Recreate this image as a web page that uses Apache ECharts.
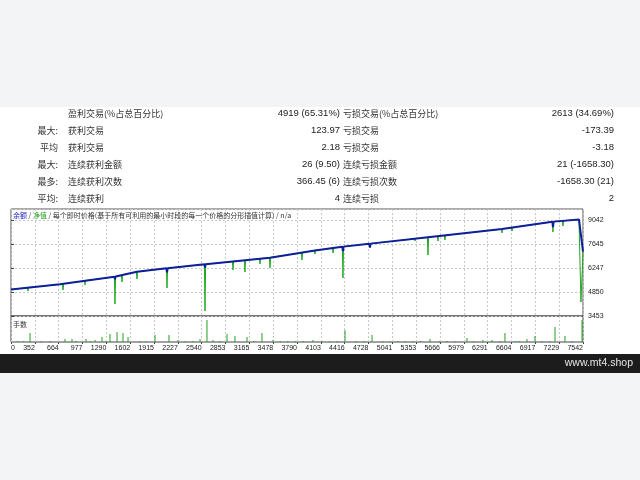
<!DOCTYPE html>
<html><head><meta charset="utf-8">
<script src="https://cdn.jsdelivr.net/npm/echarts@6/dist/echarts.min.js"></script>
<style>html,body{margin:0;padding:0;background:#fff}#c{width:640px;height:480px}</style>
</head><body><div id="c"></div>
<script>
// ---- tick labels ----
const xTickLabels = ["0","352","664","977","1290","1602","1915","2227","2540","2853","3165","3478","3790","4103","4416","4728","5041","5353","5666","5979","6291","6604","6917","7229","7542"];
const yTickLabels = ["3453","4850","6247","7645","9042"];

// ---- balance (blue) [trade #, value] ----
const balance = [
  [0,5000],[646,5299],
  [1362,5735],[1371,5600],[1380,5750],
  [1661,6032],
  [2049,6226],[2057,5990],[2066,6234],
  [2550,6459],[2558,6280],[2566,6466],
  [3415,6847],[4008,7266],
  [4368,7484],[4377,7230],[4386,7492],
  [4725,7658],[4733,7450],[4742,7666],
  [5498,8035],[6474,8518],
  [7138,8939],[7146,8620],[7155,8947],
  [7489,9071],[7542,7200]
];

// ---- equity (green) [trade #, value] ----
const equity = [
  [0,5000],
  [216,5093],[224,4909],[232,5116],
  [506,5231],[514,5141],[522,5245],
  [678,5307],[686,4967],[694,5338],
  [968,5491],[976,5258],[984,5515],
  [1363,5728],[1371,4152],[1379,5760],
  [1456,5810],[1464,5432],[1472,5860],
  [1653,6011],[1661,5607],[1669,6041],
  [2049,6219],[2057,5083],[2065,6241],
  [2550,6452],[2558,3744],[2566,6473],
  [2919,6618],[2927,6131],[2935,6638],
  [3077,6690],[3085,6015],[3093,6708],
  [3275,6780],[3283,6480],[3291,6795],
  [3407,6838],[3415,6248],[3423,6861],
  [3829,7129],[3837,6713],[3845,7161],
  [4000,7253],[4008,7063],[4016,7279],
  [4238,7396],[4246,7121],[4254,7420],
  [4369,7475],[4377,5665],[4385,7499],
  [4725,7653],[4733,7412],[4741,7670],
  [5319,7941],[5327,7820],[5335,7960],
  [5490,8026],[5498,7004],[5506,8046],
  [5622,8090],[5630,7820],[5638,8110],
  [5714,8137],[5722,7878],[5730,8155],
  [5873,8214],[5881,8111],[5889,8234],
  [6466,8509],[6474,8285],[6482,8531],
  [6598,8588],[6606,8402],[6614,8613],
  [7138,8930],[7146,8343],[7154,8950],
  [7270,8985],[7278,8693],[7286,9000],
  [7489,9071],[7515,4268],[7542,7200]
];

// ---- lots (手数) [trade #, lots] ----
const lots = [
  [90,0.05],[160,0.05],[251,0.45],[400,0.05],[520,0.05],[712,0.15],[804,0.15],[860,0.05],
  [989,0.15],[1050,0.05],[1108,0.1],[1200,0.25],[1250,0.05],[1305,0.4],[1398,0.5],[1477,0.45],
  [1543,0.25],[1700,0.05],[1780,0.05],[1899,0.35],[2083,0.35],[2202,0.1],[2300,0.05],[2400,0.05],
  [2492,0.15],[2584,1.1],[2663,0.1],[2750,0.05],[2848,0.4],[2953,0.3],[3112,0.25],[3200,0.05],
  [3309,0.45],[3454,0.1],[3550,0.05],[3650,0.05],[3750,0.05],[3850,0.05],[3982,0.1],[4100,0.05],
  [4200,0.05],[4300,0.05],[4404,0.6],[4550,0.05],[4650,0.05],[4760,0.35],[4900,0.05],[5000,0.05],
  [5100,0.05],[5200,0.05],[5300,0.05],[5400,0.05],[5525,0.15],[5650,0.05],[5750,0.05],[5850,0.05],
  [6012,0.2],[6100,0.05],[6223,0.1],[6342,0.1],[6450,0.05],[6513,0.45],[6650,0.05],[6700,0.05],
  [6803,0.15],[6909,0.3],[7000,0.05],[7100,0.05],[7173,0.75],[7304,0.3],[7400,0.05],[7529,1.1]
];

// ---- statistics table ----
const statPrefix  = ["", "最大:", "平均", "最大:", "最多:", "平均:"];
const statNamesL  = ["盈利交易(%占总百分比)", "获利交易", "获利交易", "连续获利金额", "连续获利次数", "连续获利"];
const statValuesL = ["4919 (65.31%)", "123.97", "2.18", "26 (9.50)", "366.45 (6)", "4"];
const statNamesR  = ["亏损交易(%占总百分比)", "亏损交易", "亏损交易", "连续亏损金额", "连续亏损次数", "连续亏损"];
const statValuesR = ["2613 (34.69%)", "-173.39", "-3.18", "21 (-1658.30)", "-1658.30 (21)", "2"];

const legendParts = ["余额", "净值", "每个即时价格(基于所有可利用的最小时段的每一个价格的分形插值计算)", "n/a"];
const subTitle = "手数";
const siteText = "www.mt4.shop";

// ---- layout/style ----
const X_MAX = 7542, X_STEP = X_MAX / 24;
const Y_MIN = 3453, Y_STEP = 1397.25, Y_MAX = 9682;
const CJK = '"Noto Sans CJK SC"';
const LAT = '"Liberation Sans", "Noto Sans CJK SC"';

const g = [
  {type:'rect', silent:true, z:-10, shape:{x:0,y:0,width:640,height:107}, style:{fill:'#f3f4f6'}},
  {type:'rect', silent:true, z:-10, shape:{x:0,y:354,width:640,height:19}, style:{fill:'#1c1c1c'}},
  {type:'rect', silent:true, z:-10, shape:{x:0,y:373,width:640,height:107}, style:{fill:'#f3f4f6'}},
  {type:'text', silent:true, z:10, x:633, y:363, style:{text:siteText, fill:'#e6e6e6', font:'10.5px "Liberation Sans"', textAlign:'right', textVerticalAlign:'middle'}}
];
const rowY0 = 113.5, rowDy = 17;
for (let i = 0; i < statNamesL.length; i++) {
  const y = rowY0 + i * rowDy;
  g.push({type:'text', silent:true, x:58, y, style:{text:statPrefix[i], fill:'#333', font:'9px '+CJK, textAlign:'right', textVerticalAlign:'middle'}});
  g.push({type:'text', silent:true, x:68, y, style:{text:statNamesL[i], fill:'#333', font:'9px '+CJK, textAlign:'left', textVerticalAlign:'middle'}});
  g.push({type:'text', silent:true, x:340, y, style:{text:statValuesL[i], fill:'#222', font:'9.5px '+LAT, textAlign:'right', textVerticalAlign:'middle'}});
  g.push({type:'text', silent:true, x:343, y, style:{text:statNamesR[i], fill:'#333', font:'9px '+CJK, textAlign:'left', textVerticalAlign:'middle'}});
  g.push({type:'text', silent:true, x:614, y, style:{text:statValuesR[i], fill:'#222', font:'9.5px '+LAT, textAlign:'right', textVerticalAlign:'middle'}});
}
g.push({type:'text', silent:true, z:10, x:13, y:215, style:{
  text:'{b|'+legendParts[0]+'} / {g|'+legendParts[1]+'} / '+legendParts[2]+' / '+legendParts[3],
  fill:'#333', font:'7px '+CJK, textVerticalAlign:'middle',
  rich:{b:{fill:'#2020c0', font:'7px '+CJK}, g:{fill:'#20a020', font:'7px '+CJK}}
}});
g.push({type:'text', silent:true, z:10, x:13, y:324, style:{text:subTitle, fill:'#333', font:'7px '+CJK, textVerticalAlign:'middle'}});

const dashed = {show:true, lineStyle:{color:'#c8c8c8', type:[2,2], width:1}};
const xLab = v => { const k = v / X_STEP, i = Math.round(k); return Math.abs(k - i) < 0.01 ? (xTickLabels[i] || '') : ''; };
const yLab = v => { const k = (v - Y_MIN) / Y_STEP, i = Math.round(k); return Math.abs(k - i) < 0.01 ? (yTickLabels[i] || '') : ''; };

const chart = echarts.init(document.getElementById('c'), null, {renderer:'canvas'});
chart.setOption({
  backgroundColor:'#ffffff',
  animation:false,
  graphic:{elements:g},
  grid:[
    {left:11, top:209, width:572, height:107, show:true, borderColor:'#555', borderWidth:1, backgroundColor:'transparent'},
    {left:11, top:316, width:572, height:26, show:true, borderColor:'#444', borderWidth:1, backgroundColor:'transparent'}
  ],
  xAxis:[
    {type:'value', gridIndex:0, min:0, max:X_MAX, interval:X_STEP, axisLine:{show:false}, axisTick:{show:false}, axisLabel:{show:false}, splitLine:dashed},
    {type:'value', gridIndex:1, min:0, max:X_MAX, interval:X_STEP, axisLine:{show:false},
     axisTick:{show:true, length:2, lineStyle:{color:'#444'}},
     axisLabel:{show:true, formatter:xLab, fontSize:7, fontFamily:'Liberation Sans', color:'#222', margin:3, align:'right', alignMinLabel:'left', alignMaxLabel:'right', hideOverlap:false},
     splitLine:dashed}
  ],
  yAxis:[
    {type:'value', gridIndex:0, position:'right', min:Y_MIN, max:Y_MAX, interval:Y_STEP, axisLine:{show:false},
     axisTick:{show:true, length:3, lineStyle:{color:'#444'}},
     axisLabel:{show:true, formatter:yLab, fontSize:7, fontFamily:'Liberation Sans', color:'#222', margin:5, showMaxLabel:false},
     splitLine:dashed},
    {type:'value', gridIndex:1, min:0, max:1.3, show:false, splitLine:{show:false}}
  ],
  series:[
    {name:'净值', type:'line', xAxisIndex:0, yAxisIndex:0, data:equity, showSymbol:false, symbol:'none',
     lineStyle:{color:'#1fa81f', width:1}, z:3},
    {name:'余额', type:'line', xAxisIndex:0, yAxisIndex:0, data:balance, showSymbol:false, symbol:'none',
     lineStyle:{color:'#0f1f9c', width:2}, z:4},
    {name:'手数', type:'bar', xAxisIndex:1, yAxisIndex:1, data:lots, barWidth:1, itemStyle:{color:'#22a022'}, z:3}
  ]
});
</script>
</body></html>
